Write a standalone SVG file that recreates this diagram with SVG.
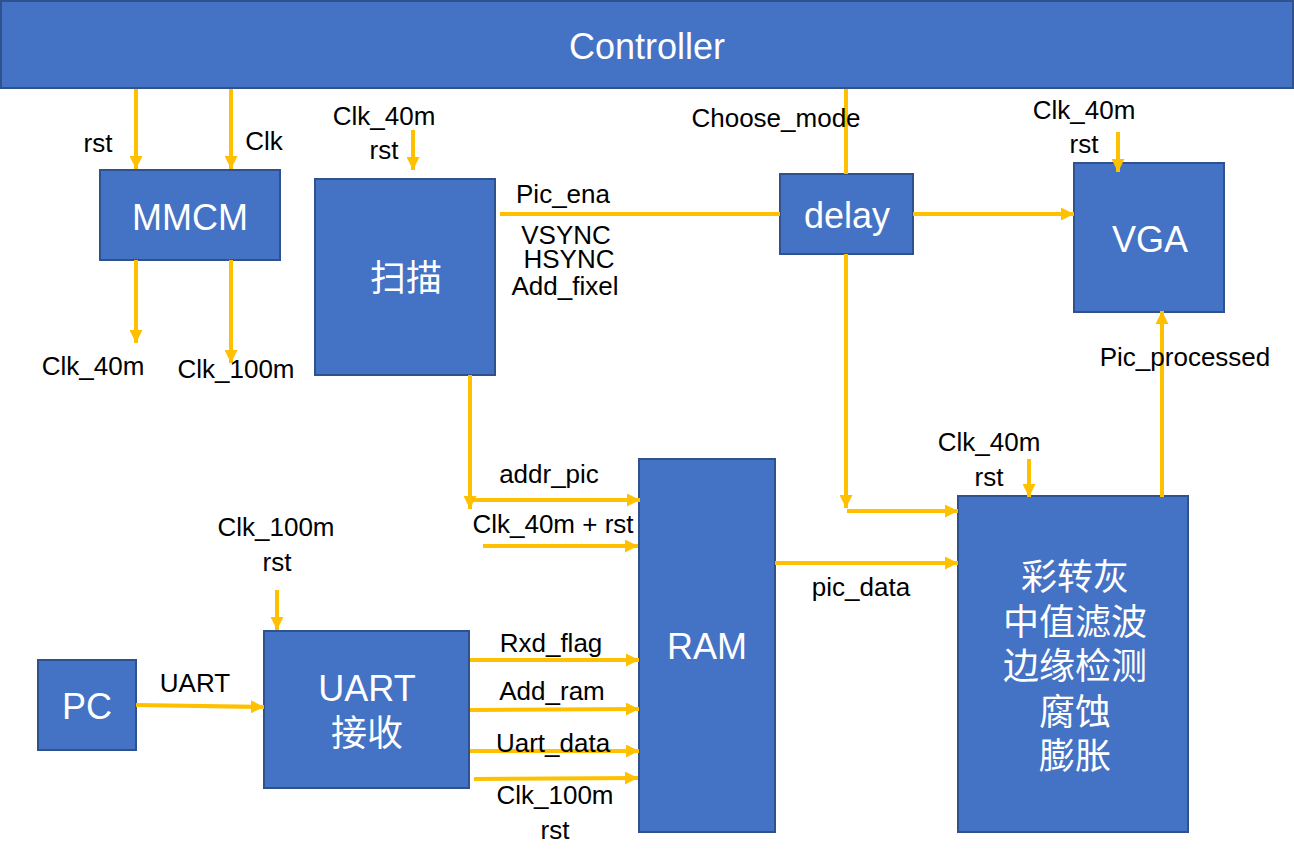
<svg xmlns="http://www.w3.org/2000/svg" width="1294" height="865" viewBox="0 0 1294 865">
<style>
.box{fill:#4472C4;stroke:#2F528F;stroke-width:2}
.bt{fill:#FFFFFF;font-family:"Liberation Sans","Noto Sans CJK SC",sans-serif;font-size:36px;text-anchor:middle}
.cj{fill:#FFFFFF;font-family:"Noto Sans CJK SC",sans-serif;font-size:36px;text-anchor:middle}
.lb{fill:#000000;font-family:"Liberation Sans",sans-serif;font-size:26px;text-anchor:middle}
.ln{stroke:#FFC000;stroke-width:4;fill:none}
.ar{stroke:#FFC000;stroke-width:4;fill:none;marker-end:url(#ah)}
</style>
<defs>
<marker id="ah" viewBox="0 0 10 10" refX="10" refY="5" markerWidth="13" markerHeight="13" markerUnits="userSpaceOnUse" orient="auto">
<path d="M0,0 L10,5 L0,10 z" fill="#FFC000"/>
</marker>
</defs>
<rect width="1294" height="865" fill="#FFFFFF"/>

<g id="controller"><rect class="box" x="1" y="1" width="1292" height="87"/><text class="bt" x="647" y="59">Controller</text></g>
<g id="mmcm"><rect class="box" x="100" y="170" width="180" height="90"/><text class="bt" x="190" y="230">MMCM</text></g>
<g id="scan"><rect class="box" x="315" y="179" width="180" height="196"/><text class="cj" x="406" y="291">扫描</text></g>
<g id="delay"><rect class="box" x="780" y="174" width="133" height="80"/><text class="bt" x="847" y="228">delay</text></g>
<g id="vga"><rect class="box" x="1074" y="163" width="150" height="149"/><text class="bt" x="1150" y="252">VGA</text></g>
<g id="proc"><rect class="box" x="958" y="496" width="230" height="336"/>
<text class="cj" x="1075" y="590">彩转灰</text>
<text class="cj" x="1075" y="635">中值滤波</text>
<text class="cj" x="1075" y="679">边缘检测</text>
<text class="cj" x="1075" y="725">腐蚀</text>
<text class="cj" x="1075" y="769">膨胀</text></g>
<g id="ram"><rect class="box" x="639" y="459" width="136" height="373"/><text class="bt" x="707" y="659">RAM</text></g>
<g id="pc"><rect class="box" x="38" y="660" width="98" height="90"/><text class="bt" x="87" y="719">PC</text></g>
<g id="uart"><rect class="box" x="264" y="631" width="205" height="157"/><text class="bt" x="367" y="701">UART</text><text class="cj" x="367" y="746">接收</text></g>

<g id="connectors">
<line class="ar" x1="136" y1="89" x2="136" y2="169"/>
<line class="ar" x1="231" y1="89" x2="231" y2="169"/>
<line class="ar" x1="136" y1="260" x2="136" y2="343"/>
<line class="ar" x1="231" y1="260" x2="231" y2="363"/>
<line class="ar" x1="413" y1="130" x2="413" y2="170"/>
<line class="ln" x1="500" y1="214" x2="780" y2="214"/>
<line class="ln" x1="846" y1="89" x2="846" y2="174"/>
<line class="ar" x1="913" y1="214" x2="1074" y2="214"/>
<line class="ar" x1="1118" y1="132" x2="1118" y2="172"/>
<line class="ar" x1="846" y1="254" x2="846" y2="508"/>
<line class="ar" x1="847" y1="511" x2="958" y2="511"/>
<line class="ar" x1="1029" y1="459" x2="1029" y2="497"/>
<line class="ar" x1="1162" y1="497" x2="1162" y2="311"/>
<line class="ar" x1="775" y1="563" x2="958" y2="563"/>
<line class="ar" x1="470" y1="375" x2="470" y2="509"/>
<line class="ar" x1="470" y1="500" x2="640" y2="500"/>
<line class="ar" x1="483" y1="546" x2="638" y2="546"/>
<line class="ar" x1="277" y1="590" x2="277" y2="630"/>
<line class="ar" x1="136" y1="705" x2="264" y2="707"/>
<line class="ar" x1="470" y1="660" x2="639" y2="660"/>
<line class="ar" x1="470" y1="710" x2="639" y2="709"/>
<line class="ar" x1="470" y1="751" x2="639" y2="751"/>
<line class="ar" x1="474" y1="779" x2="638" y2="778"/>
</g>

<g id="labels">
<text class="lb" x="98" y="152">rst</text>
<text class="lb" x="264" y="150">Clk</text>
<text class="lb" x="93" y="375">Clk_40m</text>
<text class="lb" x="236" y="378">Clk_100m</text>
<text class="lb" x="384" y="125">Clk_40m</text>
<text class="lb" x="384" y="159">rst</text>
<text class="lb" x="563" y="203">Pic_ena</text>
<text class="lb" x="566" y="244">VSYNC</text>
<text class="lb" x="569" y="268">HSYNC</text>
<text class="lb" x="565" y="295">Add_fixel</text>
<text class="lb" x="776" y="127">Choose_mode</text>
<text class="lb" x="1084" y="119">Clk_40m</text>
<text class="lb" x="1084" y="153">rst</text>
<text class="lb" x="1185" y="366">Pic_processed</text>
<text class="lb" x="989" y="451">Clk_40m</text>
<text class="lb" x="989" y="486">rst</text>
<text class="lb" x="549" y="483">addr_pic</text>
<text class="lb" x="553" y="533">Clk_40m + rst</text>
<text class="lb" x="861" y="596">pic_data</text>
<text class="lb" x="276" y="536">Clk_100m</text>
<text class="lb" x="277" y="571">rst</text>
<text class="lb" x="195" y="692">UART</text>
<text class="lb" x="551" y="652">Rxd_flag</text>
<text class="lb" x="552" y="700">Add_ram</text>
<text class="lb" x="553" y="752">Uart_data</text>
<text class="lb" x="555" y="804">Clk_100m</text>
<text class="lb" x="555" y="839">rst</text>
</g>
</svg>
